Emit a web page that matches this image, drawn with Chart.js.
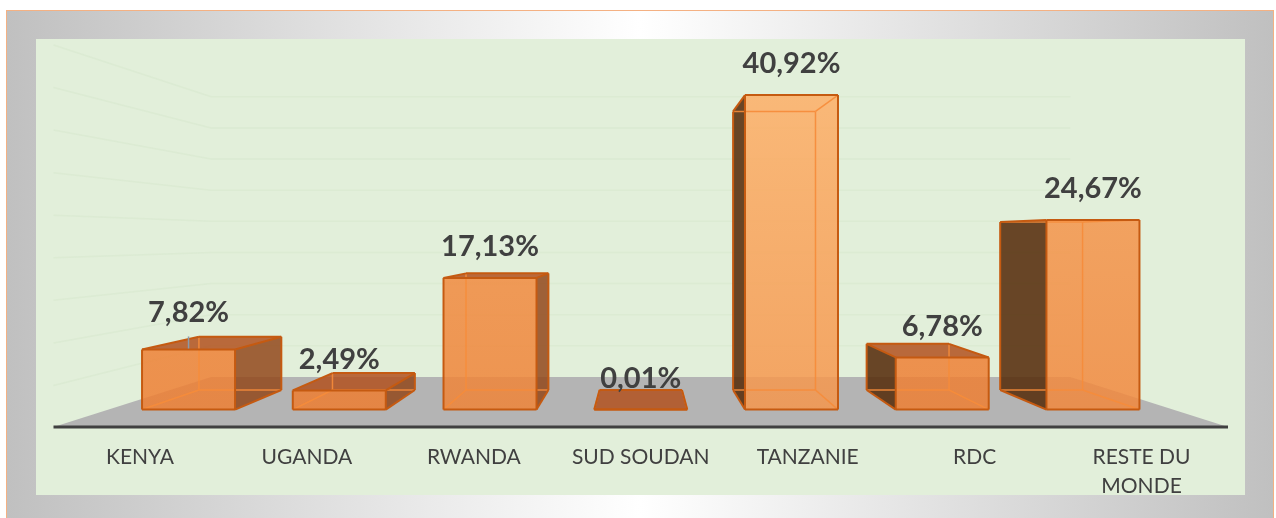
<!DOCTYPE html>
<html>
<head>
<meta charset="utf-8">
<script src="https://cdn.jsdelivr.net/npm/chart.js@4.4.1/dist/chart.umd.min.js"></script>
<style>
  html, body { margin: 0; padding: 0; background: #fff; }
  #cadre {
    position: absolute; left: 6px; top: 10px; width: 1266px; height: 510px;
    border: 1.5px solid #f4b183;
    background: linear-gradient(90deg, #c0c0c0 0%, #ffffff 50%, #c0c0c0 100%);
  }
  #fond { position: absolute; left: 36px; top: 39px; width: 1209px; height: 456px; background: #e2efda; }
  #graph { position: absolute; left: 0; top: 0; }
</style>
</head>
<body>
<div id="cadre"></div>
<div id="fond"></div>
<canvas id="graph" width="1276" height="518"></canvas>
<script>
const pays = ['KENYA', 'UGANDA', 'RWANDA', 'SUD SOUDAN', 'TANZANIE', 'RDC', ['RESTE DU', 'MONDE']];
const parts = [7.82, 2.49, 17.13, 0.01, 40.92, 6.78, 24.67];

// perspective : point de fuite et profondeur des faces (1 = plan de l'axe)
const FUITE_Y = 238;
const K_AVANT = 0.903;
const K_ARRIERE = 0.80;
const K_SOL = 0.7316;

// étiquette du Kenya remontée, avec trait de rappel
const decalageEtiquette = { 0: 6 };

const ORANGE = [237, 125, 49];
const ORANGE_CLAIR = [253, 174, 102];

function melange(a, b, s, alpha) {
    const c = a.map((v, i) => Math.round(v + (b[i] - v) * s));
    return 'rgba(' + c[0] + ',' + c[1] + ',' + c[2] + ',' + alpha + ')';
}

const boite3d = {
    id: 'boite3d',
    beforeDatasetsDraw(chart) {
        const ctx = chart.ctx;
        const ca = chart.chartArea;
        const ys = chart.scales.y;
        const vx = (ca.left + ca.right) / 2;
        const proj = (x, y, k) => [vx + (x - vx) * k, FUITE_Y + (y - FUITE_Y) * k];
        const y0 = ys.getPixelForValue(0);
        const g = ca.left - 3, d = ca.right + 3;

        // sol gris
        const ag = proj(g, y0, K_SOL), ad = proj(d, y0, K_SOL);
        ctx.save();
        ctx.fillStyle = '#b4b4b4';
        ctx.beginPath();
        ctx.moveTo(g, y0 - 1);
        ctx.lineTo(d, y0 - 1);
        ctx.lineTo(ad[0], ad[1]);
        ctx.lineTo(ag[0], ag[1]);
        ctx.closePath();
        ctx.fill();

        // quadrillage très pâle sur les parois
        ctx.strokeStyle = 'rgba(205,226,196,0.3)';
        ctx.lineWidth = 1.5;
        ys.ticks.forEach(t => {
            if (t.value <= 0) return;
            const yp = ys.getPixelForValue(t.value);
            const p1 = proj(g, yp, K_SOL), p2 = proj(d, yp, K_SOL);
            ctx.beginPath();
            ctx.moveTo(g, yp);
            ctx.lineTo(p1[0], p1[1]);
            ctx.lineTo(p2[0], p2[1]);
            ctx.stroke();
        });

        // ligne de l'axe
        ctx.strokeStyle = '#404040';
        ctx.lineWidth = 3;
        ctx.beginPath();
        ctx.moveTo(g, y0 - 1);
        ctx.lineTo(d, y0 - 1);
        ctx.stroke();
        ctx.restore();
    },
    afterDatasetsDraw(chart) {
        const ctx = chart.ctx;
        const ca = chart.chartArea;
        const vx = (ca.left + ca.right) / 2;
        const proj = (x, y, k) => [vx + (x - vx) * k, FUITE_Y + (y - FUITE_Y) * k];
        const vmax = Math.max(...parts);
        const meta = chart.getDatasetMeta(0);

        meta.data.forEach((el, i) => {
            const v = parts[i];
            const l = el.x - el.width / 2, r = el.x + el.width / 2;
            // coins avant / arrière
            const F = { tl: proj(l, el.y, K_AVANT), tr: proj(r, el.y, K_AVANT), bl: proj(l, el.base, K_AVANT), br: proj(r, el.base, K_AVANT) };
            const B = { tl: proj(l, el.y, K_ARRIERE), tr: proj(r, el.y, K_ARRIERE), bl: proj(l, el.base, K_ARRIERE), br: proj(r, el.base, K_ARRIERE) };

            const vis = {
                avant: true, arriere: false,
                haut: F.tl[1] > FUITE_Y, bas: F.bl[1] < FUITE_Y,
                gauche: F.tl[0] > vx, droite: F.tr[0] < vx
            };

            const poly = (pts, fill) => {
                ctx.beginPath();
                ctx.moveTo(pts[0][0], pts[0][1]);
                pts.slice(1).forEach(p => ctx.lineTo(p[0], p[1]));
                ctx.closePath();
                ctx.fillStyle = fill;
                ctx.fill();
            };

            ctx.save();
            const s = Math.pow(v / vmax, 1.5);
            const grad = ctx.createLinearGradient(0, F.bl[1], 0, F.tl[1] - 0.01);
            grad.addColorStop(0, melange(ORANGE, ORANGE_CLAIR, s * 0.5, 0.85));
            grad.addColorStop(1, melange(ORANGE, ORANGE_CLAIR, s, 0.85));
            poly([F.tl, F.tr, F.br, F.bl], grad);
            if (vis.haut) poly([F.tl, F.tr, B.tr, B.tl], 'rgba(177,81,30,0.85)');
            if (vis.droite) poly([F.tr, B.tr, B.br, F.br], 'rgba(146,72,27,0.85)');
            if (vis.gauche) poly([F.tl, B.tl, B.bl, F.bl], 'rgba(86,45,13,0.88)');

            const aretes = [
                [F.tl, F.tr, 'avant', 'haut'], [F.bl, F.br, 'avant', 'bas'],
                [F.tl, F.bl, 'avant', 'gauche'], [F.tr, F.br, 'avant', 'droite'],
                [B.tl, B.tr, 'arriere', 'haut'], [B.bl, B.br, 'arriere', 'bas'],
                [B.tl, B.bl, 'arriere', 'gauche'], [B.tr, B.br, 'arriere', 'droite'],
                [F.tl, B.tl, 'haut', 'gauche'], [F.tr, B.tr, 'haut', 'droite'],
                [F.bl, B.bl, 'bas', 'gauche'], [F.br, B.br, 'bas', 'droite']
            ];
            const trace = (a) => {
                ctx.beginPath();
                ctx.moveTo(a[0][0], a[0][1]);
                ctx.lineTo(a[1][0], a[1][1]);
                ctx.stroke();
            };
            // arêtes cachées, vues par transparence
            ctx.strokeStyle = 'rgba(246,140,58,0.9)';
            ctx.lineWidth = 1.5;
            aretes.filter(a => !vis[a[2]] && !vis[a[3]]).forEach(trace);
            // contour
            ctx.strokeStyle = '#c55a11';
            ctx.lineWidth = 2;
            ctx.lineJoin = 'round';
            aretes.filter(a => vis[a[2]] || vis[a[3]]).forEach(trace);

            // étiquette de valeur
            const lift = decalageEtiquette[i] || 0;
            const cx = (F.tl[0] + F.tr[0]) / 2;
            if (lift) {
                ctx.strokeStyle = '#8a9aab';
                ctx.lineWidth = 1.5;
                ctx.beginPath();
                ctx.moveTo(cx, F.tl[1] - 1);
                ctx.lineTo(cx, F.tl[1] - 13);
                ctx.stroke();
            }
            ctx.fillStyle = '#404040';
            ctx.font = 'bold 29px Lato';
            ctx.textAlign = 'center';
            ctx.textBaseline = 'middle';
            ctx.fillText(v.toFixed(2).replace('.', ',') + '%', cx, F.tl[1] - 31 - lift);
            ctx.restore();
        });
    }
};

const ctx = document.getElementById('graph').getContext('2d');
const graphique = new Chart(ctx, {
    type: 'bar',
    data: {
        labels: pays,
        datasets: [{
            data: parts,
            backgroundColor: 'rgba(0,0,0,0)',
            borderWidth: 0,
            barPercentage: 0.617,
            categoryPercentage: 1
        }]
    },
    options: {
        responsive: false,
        animation: false,
        layout: { padding: { left: 56.5, right: 51, top: 45, bottom: 0 } },
        plugins: { legend: { display: false }, tooltip: { enabled: false } },
        scales: {
            x: {
                grid: { display: false, drawTicks: false },
                border: { display: false },
                ticks: {
                    color: '#404040',
                    font: { family: 'Lato', size: 21, lineHeight: 1.38 },
                    padding: 15,
                    maxRotation: 0,
                    autoSkip: false
                },
                afterFit(scale) { scale.height = 90; }
            },
            y: {
                display: false,
                min: 0,
                max: 45,
                ticks: { stepSize: 5 }
            }
        }
    },
    plugins: [boite3d]
});
</script>
</body>
</html>
